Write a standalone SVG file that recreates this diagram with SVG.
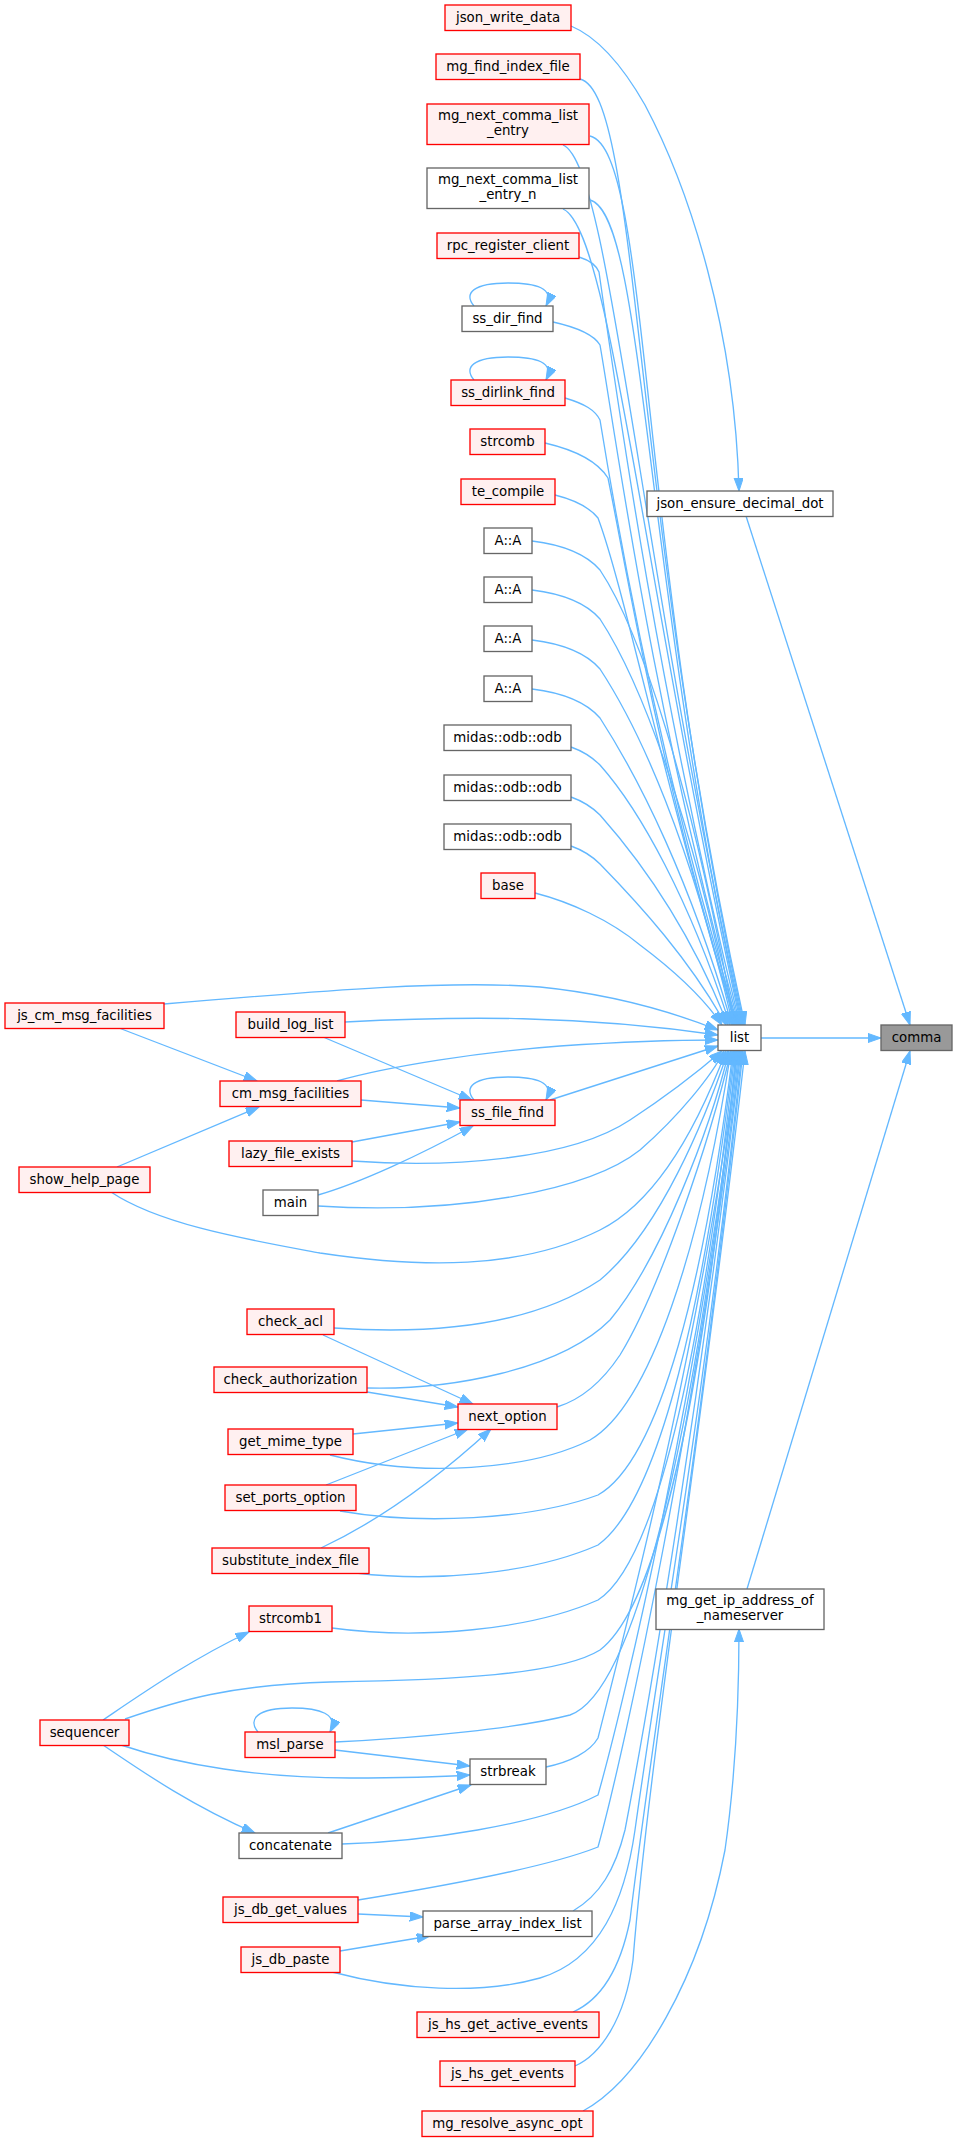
<svg xmlns="http://www.w3.org/2000/svg" width="957" height="2141" viewBox="0 0 957 2141">
<style>
.r{fill:#fff0f0;stroke:#ff0000;stroke-width:1.33}
.w{fill:#ffffff;stroke:#666666;stroke-width:1.33}
.g{fill:#999999;stroke:#666666;stroke-width:1.33}
text{font-family:"DejaVu Sans","Liberation Sans",sans-serif;font-size:13.33px;fill:#000;text-anchor:middle}
.e{fill:none;stroke:#63b8ff;stroke-width:1.33;marker-end:url(#ah)}
</style>
<defs>
<marker id="ah" markerUnits="userSpaceOnUse" markerWidth="14" markerHeight="10" refX="13.3" refY="4.67" orient="auto">
<path d="M0,0 L13.3,4.67 L0,9.33 Z" fill="#63b8ff" stroke="#63b8ff" stroke-width="1"/>
</marker>
</defs>
<rect width="957" height="2141" fill="#ffffff"/>
<g id="edges">
<!-- upper rank-2 nodes to list -->
<path class="e" d="M580,79 C640,94 630,505 745,1025"/>
<path class="e" d="M590,136 C650,151 636,536 744,1025"/>
<path class="e" d="M563,145 C610,165 636,541 743,1025"/>
<path class="e" d="M590,200 C645,215 642,571 742,1025"/>
<path class="e" d="M563,209 C610,229 642,576 741,1025"/>
<path class="e" d="M579,257 Q595,262 599,272 C620,420 660,700 740,1025"/>
<path class="e" d="M553,322 C580,328 594,335 600,345 C615,430 650,700 739,1025"/>
<path class="e" d="M565,398 C585,404 595,410 600,420 C613,500 652,740 738,1025"/>
<path class="e" d="M545,443 C575,450 598,462 608,478 C625,560 660,780 737,1025"/>
<path class="e" d="M555,495 C575,500 590,508 598,518 C625,590 665,790 736,1025"/>
<path class="e" d="M532,541 C565,545 587,555 600,570 C640,630 690,780 735,1025"/>
<path class="e" d="M532,590 C565,594 587,604 600,619 C640,680 690,810 734,1025"/>
<path class="e" d="M532,640 C565,644 587,654 600,669 C640,730 690,840 733,1025"/>
<path class="e" d="M532,689 C565,693 587,703 600,718 C640,780 690,880 732,1025"/>
<path class="e" d="M571,747 C585,752 593,758 600,765 C640,810 690,900 730,1025"/>
<path class="e" d="M571,797 C585,802 593,808 600,815 C640,860 690,930 728,1025"/>
<path class="e" d="M571,846 C585,851 593,857 600,864 C640,905 690,960 726,1025"/>
<path class="e" d="M535,893 C570,902 610,920 640,945 C680,975 705,1000 722,1025"/>
<!-- left side to list -->
<path class="e" d="M164,1004 C330,990 450,980 540,987 C620,995 680,1015 718,1030"/>
<path class="e" d="M345,1022 C460,1016 580,1015 718,1035"/>
<path class="e" d="M337,1081 C390,1066 480,1052 560,1046 C620,1042 680,1040 718,1040"/>
<path class="e" d="M550,1100 L718,1046"/>
<path class="e" d="M352,1161 C450,1168 570,1160 630,1120 C665,1097 700,1070 722,1051"/>
<path class="e" d="M318,1206 C460,1215 590,1190 640,1150 C680,1115 712,1075 724,1051"/>
<path class="e" d="M111,1192 C160,1225 250,1240 320,1253 C420,1268 520,1270 600,1230 C660,1200 700,1120 726,1051"/>
<!-- lower nodes to list -->
<path class="e" d="M334,1328 C450,1336 540,1320 600,1280 C660,1230 705,1120 728,1051"/>
<path class="e" d="M367,1388 C450,1390 560,1370 610,1320 C660,1260 710,1130 729,1051"/>
<path class="e" d="M557,1407 C580,1400 600,1385 620,1355 C660,1290 710,1140 731,1051"/>
<path class="e" d="M330,1455 C420,1478 530,1470 590,1440 C650,1405 700,1250 731,1051"/>
<path class="e" d="M340,1511 C420,1525 530,1520 598,1495 C660,1460 705,1280 733,1051"/>
<path class="e" d="M356,1573 C430,1582 530,1575 598,1545 C660,1500 705,1300 734,1051"/>
<path class="e" d="M332,1628 C420,1640 530,1630 598,1600 C660,1560 705,1330 735,1051"/>
<path class="e" d="M125,1719 C180,1700 230,1685 330,1682 C450,1680 560,1675 600,1650 C665,1600 708,1350 736,1051"/>
<path class="e" d="M335,1742 C420,1738 520,1728 570,1715 C640,1690 700,1400 737,1051"/>
<path class="e" d="M546,1767 C570,1762 590,1752 598,1738 C620,1650 700,1350 738,1051"/>
<path class="e" d="M342,1844 C420,1842 540,1825 598,1795 C625,1700 700,1380 739,1051"/>
<path class="e" d="M358,1900 C420,1890 540,1870 598,1847 C625,1750 700,1400 740,1051"/>
<path class="e" d="M573,1911 C600,1895 615,1870 625,1830 C650,1700 700,1400 741,1051"/>
<path class="e" d="M332,1972 C400,1990 480,1995 540,1978 C600,1960 625,1900 635,1830 C660,1650 705,1400 742,1051"/>
<path class="e" d="M573,2012 C600,2000 620,1970 630,1920 C650,1750 700,1450 743,1051"/>
<path class="e" d="M575,2066 C600,2055 625,2020 633,1960 C650,1750 700,1450 745,1051"/>
<!-- other -->
<path class="e" d="M583,2111 C640,2080 700,1980 725,1850 C735,1780 739,1700 739,1629"/>
<path class="e" d="M571,26 C600,38 625,70 645,105 C690,190 735,330 739,491"/>
<path class="e" d="M746,516 L910,1025"/>
<path class="e" d="M761,1038 L881,1038"/>
<path class="e" d="M747,1589 L910,1051"/>
<path class="e" d="M119,1028 L257,1081"/>
<path class="e" d="M117,1167 L259,1107"/>
<path class="e" d="M323,1037 L472,1100"/>
<path class="e" d="M361,1100 L460,1108"/>
<path class="e" d="M352,1142 L460,1122"/>
<path class="e" d="M318,1195 C360,1183 420,1155 473,1126"/>
<path class="e" d="M323,1335 L473,1404"/>
<path class="e" d="M367,1392 L458,1407"/>
<path class="e" d="M353,1434 L458,1423"/>
<path class="e" d="M326,1485 L468,1429"/>
<path class="e" d="M321,1548 C370,1525 430,1485 491,1429"/>
<path class="e" d="M103,1720 C140,1695 190,1660 249,1632"/>
<path class="e" d="M121,1745 C180,1765 260,1778 350,1778 C400,1778 440,1777 470,1775"/>
<path class="e" d="M103,1745 C140,1770 190,1805 255,1833"/>
<path class="e" d="M335,1750 L470,1766"/>
<path class="e" d="M328,1833 L471,1785"/>
<path class="e" d="M358,1914 L423,1917"/>
<path class="e" d="M340,1951 L430,1936"/>
<!-- self loops -->
<path class="e" d="M474,306 C463,293 474,283 508,283 C536,283 555,288 546,306"/>
<path class="e" d="M474,380 C463,367 474,357 508,357 C536,357 555,362 546,380"/>
<path class="e" d="M474,1100 C463,1087 474,1077 508,1077 C536,1077 555,1082 546,1100"/>
<path class="e" d="M258,1732 C247,1719 258,1708 292,1708 C320,1708 339,1714 330,1732"/>
</g>
<g id="n_json_write_data"><rect class="r" x="445" y="5" width="126" height="25.5"/><text x="508" y="22.3">json_write_data</text></g>
<g id="n_mg_find_index_file"><rect class="r" x="436" y="54" width="144" height="25.5"/><text x="508" y="71.3">mg_find_index_file</text></g>
<g id="n_mg_next_comma_list_entry"><rect class="r" x="427" y="104" width="162" height="40.5"/><text x="508" y="120">mg_next_comma_list</text><text x="508" y="134.7">_entry</text></g>
<g id="n_mg_next_comma_list_entry_n"><rect class="w" x="427" y="168" width="162" height="40.5"/><text x="508" y="184">mg_next_comma_list</text><text x="508" y="198.7">_entry_n</text></g>
<g id="n_rpc_register_client"><rect class="r" x="437" y="233" width="142" height="25.5"/><text x="508" y="250.3">rpc_register_client</text></g>
<g id="n_ss_dir_find"><rect class="w" x="462" y="306" width="91" height="25.5"/><text x="507.5" y="323.3">ss_dir_find</text></g>
<g id="n_ss_dirlink_find"><rect class="r" x="451" y="380" width="114" height="25.5"/><text x="508" y="397.3">ss_dirlink_find</text></g>
<g id="n_strcomb"><rect class="r" x="470" y="429" width="75" height="25.5"/><text x="507.5" y="446.3">strcomb</text></g>
<g id="n_te_compile"><rect class="r" x="461" y="479" width="94" height="25.5"/><text x="508" y="496.3">te_compile</text></g>
<g id="n_AA1"><rect class="w" x="484" y="528" width="48" height="25.5"/><text x="508" y="545.3">A::A</text></g>
<g id="n_AA2"><rect class="w" x="484" y="577" width="48" height="25.5"/><text x="508" y="594.3">A::A</text></g>
<g id="n_AA3"><rect class="w" x="484" y="626" width="48" height="25.5"/><text x="508" y="643.3">A::A</text></g>
<g id="n_AA4"><rect class="w" x="484" y="676" width="48" height="25.5"/><text x="508" y="693.3">A::A</text></g>
<g id="n_odb1"><rect class="w" x="444" y="725" width="127" height="25.5"/><text x="507.5" y="742.3">midas::odb::odb</text></g>
<g id="n_odb2"><rect class="w" x="444" y="775" width="127" height="25.5"/><text x="507.5" y="792.3">midas::odb::odb</text></g>
<g id="n_odb3"><rect class="w" x="444" y="824" width="127" height="25.5"/><text x="507.5" y="841.3">midas::odb::odb</text></g>
<g id="n_base"><rect class="r" x="481" y="873" width="54" height="25.5"/><text x="508" y="890.3">base</text></g>
<g id="n_ss_file_find"><rect class="r" x="460" y="1100" width="95" height="25.5"/><text x="507.5" y="1117.3">ss_file_find</text></g>
<g id="n_next_option"><rect class="r" x="458" y="1404" width="99" height="25.5"/><text x="507.5" y="1421.3">next_option</text></g>
<g id="n_strbreak"><rect class="w" x="470" y="1759" width="76" height="25.5"/><text x="508" y="1776.3">strbreak</text></g>
<g id="n_parse_array_index_list"><rect class="w" x="423" y="1911" width="169" height="25.5"/><text x="507.5" y="1928.3">parse_array_index_list</text></g>
<g id="n_js_hs_get_active_events"><rect class="r" x="417" y="2012" width="182" height="25.5"/><text x="508" y="2029.3">js_hs_get_active_events</text></g>
<g id="n_js_hs_get_events"><rect class="r" x="440" y="2061" width="135" height="25.5"/><text x="507.5" y="2078.3">js_hs_get_events</text></g>
<g id="n_mg_resolve_async_opt"><rect class="r" x="422" y="2111" width="171" height="25.5"/><text x="507.5" y="2128.3">mg_resolve_async_opt</text></g>
<g id="n_list"><rect class="w" x="718" y="1025" width="43" height="25.5"/><text x="739.5" y="1042.3">list</text></g>
<g id="n_json_ensure_decimal_dot"><rect class="w" x="647" y="491" width="186" height="25.5"/><text x="740" y="508.3">json_ensure_decimal_dot</text></g>
<g id="n_mg_get_ip_address_of_nameserver"><rect class="w" x="656" y="1589" width="168" height="40.5"/><text x="740" y="1605">mg_get_ip_address_of</text><text x="740" y="1619.7">_nameserver</text></g>
<g id="n_comma"><rect class="g" x="881" y="1025" width="71" height="25.5"/><text x="916.5" y="1042.3">comma</text></g>
<g id="n_build_log_list"><rect class="r" x="236" y="1012" width="109" height="25.5"/><text x="290.5" y="1029.3">build_log_list</text></g>
<g id="n_cm_msg_facilities"><rect class="r" x="220" y="1081" width="141" height="25.5"/><text x="290.5" y="1098.3">cm_msg_facilities</text></g>
<g id="n_lazy_file_exists"><rect class="r" x="229" y="1141" width="123" height="25.5"/><text x="290.5" y="1158.3">lazy_file_exists</text></g>
<g id="n_main"><rect class="w" x="263" y="1190" width="55" height="25.5"/><text x="290.5" y="1207.3">main</text></g>
<g id="n_check_acl"><rect class="r" x="247" y="1309" width="87" height="25.5"/><text x="290.5" y="1326.3">check_acl</text></g>
<g id="n_check_authorization"><rect class="r" x="214" y="1367" width="153" height="25.5"/><text x="290.5" y="1384.3">check_authorization</text></g>
<g id="n_get_mime_type"><rect class="r" x="228" y="1429" width="125" height="25.5"/><text x="290.5" y="1446.3">get_mime_type</text></g>
<g id="n_set_ports_option"><rect class="r" x="225" y="1485" width="131" height="25.5"/><text x="290.5" y="1502.3">set_ports_option</text></g>
<g id="n_substitute_index_file"><rect class="r" x="212" y="1548" width="157" height="25.5"/><text x="290.5" y="1565.3">substitute_index_file</text></g>
<g id="n_strcomb1"><rect class="r" x="249" y="1606" width="83" height="25.5"/><text x="290.5" y="1623.3">strcomb1</text></g>
<g id="n_msl_parse"><rect class="r" x="245" y="1732" width="90" height="25.5"/><text x="290" y="1749.3">msl_parse</text></g>
<g id="n_concatenate"><rect class="w" x="239" y="1833" width="103" height="25.5"/><text x="290.5" y="1850.3">concatenate</text></g>
<g id="n_js_db_get_values"><rect class="r" x="223" y="1897" width="135" height="25.5"/><text x="290.5" y="1914.3">js_db_get_values</text></g>
<g id="n_js_db_paste"><rect class="r" x="241" y="1947" width="99" height="25.5"/><text x="290.5" y="1964.3">js_db_paste</text></g>
<g id="n_js_cm_msg_facilities"><rect class="r" x="5" y="1003" width="159" height="25.5"/><text x="84.5" y="1020.3">js_cm_msg_facilities</text></g>
<g id="n_show_help_page"><rect class="r" x="19" y="1167" width="131" height="25.5"/><text x="84.5" y="1184.3">show_help_page</text></g>
<g id="n_sequencer"><rect class="r" x="40" y="1720" width="89" height="25.5"/><text x="84.5" y="1737.3">sequencer</text></g>
</svg>
